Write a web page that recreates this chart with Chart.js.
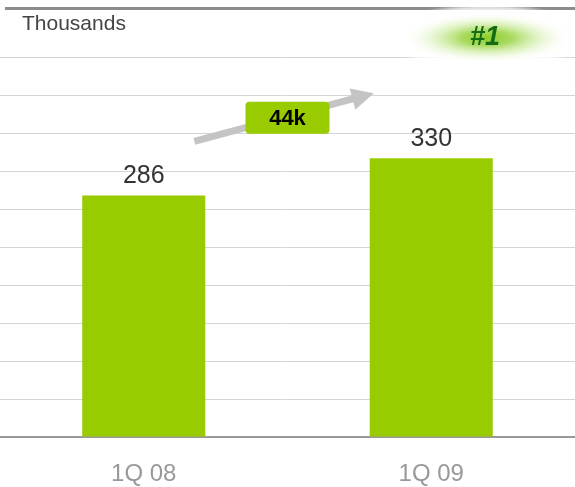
<!DOCTYPE html>
<html>
<head>
<meta charset="utf-8">
<script src="https://cdn.jsdelivr.net/npm/chart.js@4.4.1/dist/chart.umd.min.js"></script>
<style>
  html, body { margin: 0; padding: 0; background: #fff; }
  #wrap { width: 575px; height: 487px; position: relative; }
</style>
</head>
<body>
<div id="wrap"><canvas id="chart"></canvas></div>
<script>
/* ---- Data ---- */
const categories = ['1Q 08', '1Q 09'];
const subscribers = [286, 330];
const unitLabel = 'Thousands';
const rankLabel = '#1';
const yMax = 450;
const yStep = 45;

const FONT = '"Liberation Sans", Arial, sans-serif';
const GREEN = '#99cc00';

/* ---- Decorations: value labels, growth arrow, #1 badge ---- */
const decorPlugin = {
  id: 'decor',
  afterDraw(chart) {
    const { ctx } = chart;
    const meta = chart.getDatasetMeta(0);
    const yS = chart.scales.y;

    /* value labels above bars */
    ctx.save();
    ctx.fillStyle = '#333';
    ctx.font = `25px ${FONT}`;
    ctx.textAlign = 'center';
    ctx.textBaseline = 'middle';
    meta.data.forEach((bar, i) => {
      ctx.fillText(String(subscribers[i]), bar.x, bar.y - 19);
    });
    ctx.restore();

    /* growth arrow between the bars */
    const x1 = meta.data[0].x, x2 = meta.data[1].x;
    const lerp = t => x1 + (x2 - x1) * t;
    const tail = { x: lerp(0.176), y: yS.getPixelForValue(350) };
    const tip  = { x: lerp(0.80),  y: yS.getPixelForValue(407) };
    const dx = tip.x - tail.x, dy = tip.y - tail.y;
    const len = Math.hypot(dx, dy);
    const ux = dx / len, uy = dy / len;
    const headLen = 22, headW = 11;
    const bx = tip.x - ux * headLen, by = tip.y - uy * headLen;

    ctx.save();
    ctx.strokeStyle = '#c4c4c4';
    ctx.fillStyle = '#c4c4c4';
    ctx.lineWidth = 7;
    ctx.beginPath();
    ctx.moveTo(tail.x, tail.y);
    ctx.lineTo(bx + ux * 2, by + uy * 2);
    ctx.stroke();
    ctx.beginPath();
    ctx.moveTo(tip.x, tip.y);
    ctx.lineTo(bx - uy * headW, by + ux * headW);
    ctx.lineTo(bx + uy * headW, by - ux * headW);
    ctx.closePath();
    ctx.fill();
    ctx.restore();

    /* difference box */
    const cx = lerp(0.5), cy = yS.getPixelForValue(378);
    const bw = 84, bh = 32;
    ctx.save();
    ctx.fillStyle = GREEN;
    ctx.beginPath();
    ctx.roundRect(cx - bw / 2, cy - bh / 2, bw, bh, 4);
    ctx.fill();
    ctx.fillStyle = '#000';
    ctx.font = `bold 22px ${FONT}`;
    ctx.textAlign = 'center';
    ctx.textBaseline = 'middle';
    ctx.fillText((subscribers[1] - subscribers[0]) + 'k', cx, cy + 1);
    ctx.restore();

    /* header rule and unit label */
    ctx.save();
    ctx.fillStyle = '#8c8c8c';
    ctx.fillRect(5, 7, chart.width - 5, 3);
    ctx.fillStyle = '#444';
    ctx.font = `21px ${FONT}`;
    ctx.textBaseline = 'middle';
    ctx.fillText(unitLabel, 22, 24);
    ctx.restore();

    /* #1 glow badge */
    const gx = 487, gy = 37;
    ctx.save();
    ctx.translate(gx, gy);
    ctx.scale(1, 0.32);
    let g = ctx.createRadialGradient(0, 0, 0, 0, 0, 105);
    g.addColorStop(0, 'rgba(255,255,255,1)');
    g.addColorStop(0.7, 'rgba(255,255,255,1)');
    g.addColorStop(0.88, 'rgba(255,255,255,0.7)');
    g.addColorStop(1, 'rgba(255,255,255,0)');
    ctx.fillStyle = g;
    ctx.beginPath();
    ctx.arc(0, 0, 105, 0, Math.PI * 2);
    ctx.fill();
    ctx.restore();

    ctx.save();
    ctx.translate(gx, gy + 1);
    ctx.scale(1, 0.3);
    g = ctx.createRadialGradient(0, 0, 0, 0, 0, 85);
    g.addColorStop(0, 'rgba(140,205,40,1)');
    g.addColorStop(0.3, 'rgba(155,212,70,0.85)');
    g.addColorStop(0.65, 'rgba(205,236,160,0.45)');
    g.addColorStop(1, 'rgba(255,255,255,0)');
    ctx.fillStyle = g;
    ctx.beginPath();
    ctx.arc(0, 0, 85, 0, Math.PI * 2);
    ctx.fill();
    ctx.restore();

    ctx.save();
    ctx.fillStyle = '#146c14';
    ctx.font = `italic bold 27px ${FONT}`;
    ctx.textAlign = 'center';
    ctx.textBaseline = 'middle';
    ctx.fillText(rankLabel, 485, 38);
    ctx.restore();
  }
};

new Chart(document.getElementById('chart'), {
  type: 'bar',
  data: {
    labels: categories,
    datasets: [{
      data: subscribers,
      backgroundColor: GREEN,
      borderWidth: 0,
      barPercentage: 0.428,
      categoryPercentage: 1,
    }],
  },
  options: {
    responsive: true,
    maintainAspectRatio: false,
    animation: false,
    events: [],
    layout: { padding: { top: 57, left: 0, right: 0, bottom: 0 } },
    plugins: {
      legend: { display: false },
      tooltip: { enabled: false },
    },
    scales: {
      x: {
        grid: { display: false, drawTicks: false },
        border: { display: true, color: '#999', width: 2 },
        ticks: { color: '#999', font: { size: 24, family: FONT, lineHeight: 1.2 }, padding: 23 },
        afterFit(scale) { scale.height = 50; },
      },
      y: {
        min: 0,
        max: yMax,
        ticks: { display: false, stepSize: yStep },
        grid: { color: '#d4d4d4', lineWidth: 1, drawTicks: false },
        border: { display: false },
      },
    },
  },
  plugins: [decorPlugin],
});
</script>
</body>
</html>
